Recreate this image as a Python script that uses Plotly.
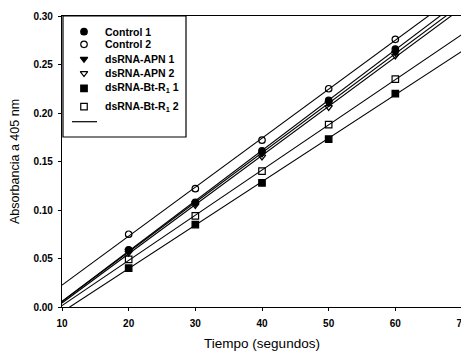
import numpy as np
import plotly.graph_objects as go

tiempo = [20, 30, 40, 50, 60]
control1 = [0.059, 0.108, 0.161, 0.213, 0.266]
control2 = [0.075, 0.122, 0.172, 0.225, 0.276]
apn1 = [0.058, 0.107, 0.158, 0.210, 0.262]
apn2 = [0.056, 0.105, 0.155, 0.206, 0.259]
btr1_1 = [0.040, 0.085, 0.128, 0.173, 0.220]
btr1_2 = [0.049, 0.094, 0.140, 0.188, 0.235]

names = ["Control 1", "Control 2", "dsRNA-APN 1", "dsRNA-APN 2",
         "dsRNA-Bt-R<sub>1</sub> 1", "dsRNA-Bt-R<sub>1</sub> 2"]
values = [control1, control2, apn1, apn2, btr1_1, btr1_2]
symbols = ["circle", "circle-open", "triangle-down", "triangle-down-open",
           "square", "square-open"]

X_RANGE = [10, 70]
Y_RANGE = [0, 0.30]

# The page body has an 8px margin; size the figure so it fits the 469x353 window.
BODY = 8
W, H = 469 - BODY, 353 - BODY
ML, MR, MT, MB = 54, 7, 8, 46
PW, PH = W - ML - MR, H - MT - MB


def paper_x(px):  # px in window pixels
    return (px - BODY - ML) / PW


def paper_y(py):
    return (H - MB - (py - BODY)) / PH


def data_x(px):
    return X_RANGE[0] + paper_x(px) * (X_RANGE[1] - X_RANGE[0])


def data_y(py):
    return Y_RANGE[0] + paper_y(py) * (Y_RANGE[1] - Y_RANGE[0])


font = "Liberation Sans, Arial, sans-serif"
fig = go.Figure()

# legend box (hand-drawn to match the original compact layout)
leg_left, leg_right, leg_top, leg_bottom = 63, 186, 16, 137
leg_rows = [31.7, 44.3, 59.0, 73.3, 88.3, 106.7]
leg_sym_x = 84
leg_text_x = 102.5
line_row = 121.7

fig.add_shape(type="rect", xref="paper", yref="paper",
              x0=paper_x(leg_left), x1=paper_x(leg_right),
              y0=paper_y(leg_bottom), y1=paper_y(leg_top),
              line=dict(color="black", width=1.2), fillcolor="white", layer="below")

xfit = np.array(X_RANGE, dtype=float)
for vals in values:
    slope, icpt = np.polyfit(tiempo, vals, 1)
    fig.add_trace(go.Scatter(x=xfit, y=slope * xfit + icpt, mode="lines",
                             line=dict(color="black", width=1.1),
                             showlegend=False, hoverinfo="skip"))
for name, vals, sym in zip(names, values, symbols):
    fig.add_trace(go.Scatter(x=tiempo, y=vals, mode="markers", name=name,
                             marker=dict(symbol=sym, size=6.5, color="black",
                                         line=dict(color="black", width=1.2)),
                             showlegend=False))

for name, sym, py in zip(names, symbols, leg_rows):
    fig.add_trace(go.Scatter(x=[data_x(leg_sym_x)], y=[data_y(py)], mode="markers",
                             marker=dict(symbol=sym, size=6.5, color="black",
                                         line=dict(color="black", width=1.2)),
                             showlegend=False, hoverinfo="skip"))
    fig.add_annotation(x=paper_x(leg_text_x), y=paper_y(py), xref="paper", yref="paper",
                       text=name, showarrow=False, xanchor="left", yanchor="middle",
                       font=dict(family=font, size=10.5, color="black", weight="bold"))
fig.add_shape(type="line", xref="paper", yref="paper",
              x0=paper_x(72), x1=paper_x(97), y0=paper_y(line_row), y1=paper_y(line_row),
              line=dict(color="black", width=1.2), layer="above")

axis_common = dict(showline=True, linecolor="black", linewidth=1.2, mirror=True,
                   ticks="outside", ticklen=3, tickcolor="black", showgrid=False,
                   zeroline=False, automargin=False, ticklabeloverflow="allow",
                   tickfont=dict(family=font, size=10, color="black", weight="bold"))
fig.update_xaxes(range=X_RANGE, dtick=10, tick0=10, ticklabelstandoff=4,
                 title=dict(text="Tiempo (segundos)", standoff=10,
                            font=dict(family=font, size=13.5, color="black")),
                 **axis_common)
fig.update_yaxes(range=Y_RANGE, dtick=0.05, tickformat=".2f", ticklabelstandoff=3,
                 title=dict(text="Absorbancia a 405 nm", standoff=17,
                            font=dict(family=font, size=12.5, color="black")),
                 **axis_common)
fig.update_layout(
    width=W, height=H,
    margin=dict(l=ML, r=MR, t=MT, b=MB),
    plot_bgcolor="white", paper_bgcolor="white",
    showlegend=False,
)
fig.write_html("out.html")
